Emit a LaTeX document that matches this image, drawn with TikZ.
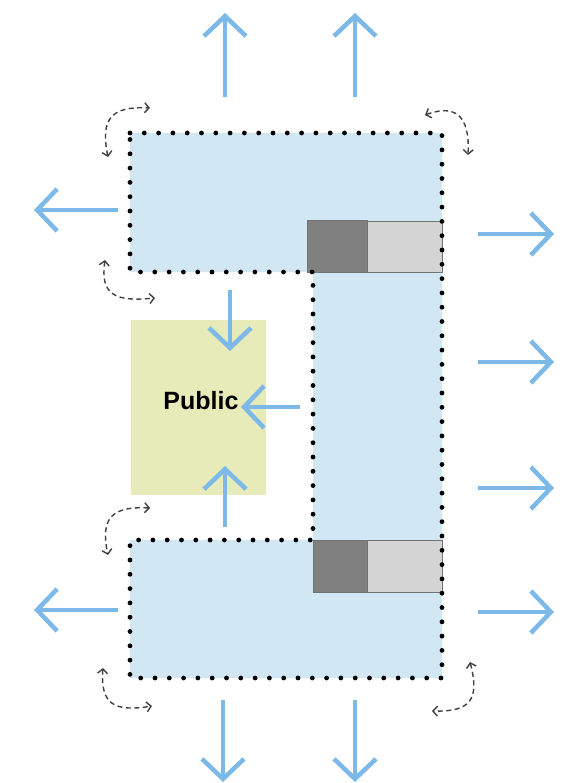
\documentclass[tikz,border=0pt]{standalone}
\usepackage{fontspec}
\setmainfont{Liberation Sans}
\usepackage{xcolor}
\usetikzlibrary{arrows.meta}
\definecolor{roomblue}{HTML}{D1E8F4}
\definecolor{flowblue}{HTML}{7DB9E8}
\definecolor{publicgreen}{HTML}{E6EBB9}

\begin{document}
\begin{tikzpicture}[x=1pt,y=-1pt,
  flow/.style={flowblue,line width=4.5pt,-{Straight Barb[length=20pt,width=42pt]}},
  turn/.style={black!75,line width=1.4pt,dash pattern=on 5pt off 3.5pt,{Straight Barb[length=4.5pt,width=10pt]}-{Straight Barb[length=4.5pt,width=10pt]}},
  core/.style={draw=black!55,line width=0.6pt},
  dots/.style={line width=4.8pt,line cap=round,dash pattern=on 0pt off 14.3pt}]
\useasboundingbox (0,0) rectangle (572,783);
% building outline
\fill[roomblue] (130,133) -- (442,133) -- (442,678) -- (130,678) -- (130,540) -- (313,540) -- (313,272) -- (130,272) -- cycle;
% service cores
\draw[core,fill=black!50] (307,220) rectangle (367,272);
\draw[core,fill=black!17] (367,221) rectangle (442,272);
\draw[core,fill=black!50] (313,540) rectangle (367,592);
\draw[core,fill=black!17] (367,540) rectangle (442,592);
\draw[dots] (130,133) -- (442,133) -- (442,678) -- (130,678) -- (130,540) -- (313,540) -- (313,272) -- (130,272) -- cycle;
% public space
\node[fill=publicgreen,minimum width=135pt,minimum height=175pt,inner sep=0pt] (pub) at (198.5,407.5) {};
\node[font=\bfseries\fontsize{25}{28}\selectfont] (publbl) at (201,401) {Public};
% flows
\foreach \sx/\sy/\ex/\ey [count=\i] in {225/97/225/13,355/97/355/13,118/210/34/210,118/610/34/610,478/234/554/234,478/362/554/362,478/488/554/488,478/612/554/612,223/700/223/782,355/700/355/782,230/290/230/351,225/527/225/466,300/407/241/407}{
  \coordinate (f\i s) at (\sx,\sy);
  \coordinate (f\i e) at (\ex,\ey);
  \draw[flow] (f\i s) -- (f\i e);
}
% corner turns
\draw[turn] (108,157) .. controls (100,118) and (112,106) .. (150,108);
\draw[turn] (425,115) .. controls (455,104) and (470,115) .. (468,155);
\draw[turn] (105,260) .. controls (100,295) and (115,302) .. (155,298);
\draw[turn] (150,508) .. controls (112,506) and (100,518) .. (108,555);
\draw[turn] (103,668) .. controls (100,705) and (115,712) .. (152,706);
\draw[turn] (470,662) .. controls (480,700) and (470,712) .. (432,711);
\end{tikzpicture}
\end{document}
